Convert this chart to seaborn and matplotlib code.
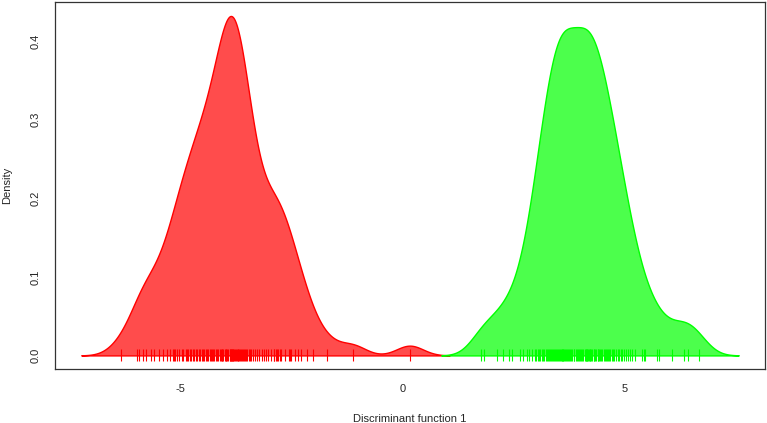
import numpy as np
import matplotlib
matplotlib.use("Agg")
import matplotlib.pyplot as plt
import seaborn as sns

# discriminant function 1 scores
red_scores = [
    -6.33,
    -5.97, -5.92, -5.85, -5.78,
    -5.65, -5.60,
    -5.48, -5.40, -5.31,
    -5.24, -5.17, -5.14, -5.11,
    -5.08, -5.03, -4.97, -4.93,
    -4.88, -4.85, -4.82, -4.78, -4.75, -4.72,
    -4.68, -4.65, -4.62, -4.58, -4.55, -4.52,
    -4.49, -4.46, -4.43, -4.40, -4.37, -4.34, -4.31,
    -4.29, -4.26, -4.23, -4.20, -4.17, -4.14, -4.11,
    -4.09, -4.07, -4.05, -4.03, -4.00, -3.98, -3.96, -3.94, -3.92,
    -3.89, -3.87, -3.86, -3.85, -3.84, -3.83, -3.82, -3.81, -3.79, -3.77,
    -3.75, -3.73, -3.71,
    -3.69, -3.67, -3.65, -3.63, -3.61, -3.58, -3.56, -3.54, -3.52,
    -3.49, -3.46, -3.43, -3.40, -3.36, -3.32,
    -3.28, -3.23, -3.17, -3.12,
    -3.08, -3.02, -2.95,
    -2.90, -2.88, -2.85, -2.82, -2.79, -2.76,
    -2.72, -2.65, -2.56, -2.52,
    -2.50, -2.42, -2.34,
    -2.27, -2.14,
    -2.02,
    -1.69, -1.12, 0.17,
]
green_scores = [
    1.78, 1.84, 2.13, 2.26, 2.41, 2.48, 2.65, 2.73,
    2.80, 2.86,
    2.93, 2.98, 3.02, 3.06, 3.09,
    3.11, 3.14, 3.17, 3.20, 3.23, 3.26, 3.29,
    3.31, 3.33, 3.35, 3.37, 3.40, 3.42, 3.44, 3.46, 3.48,
    3.51, 3.53, 3.55, 3.57, 3.59, 3.60, 3.62, 3.63, 3.64, 3.66, 3.68,
    3.71, 3.73, 3.76, 3.78, 3.81, 3.83, 3.86, 3.88,
    3.91, 3.93, 3.96, 3.98, 4.01, 4.03, 4.06, 4.08,
    4.11, 4.13, 4.15, 4.16, 4.17, 4.19, 4.20, 4.22, 4.24, 4.26, 4.28,
    4.31, 4.33, 4.35, 4.37, 4.40, 4.42, 4.44, 4.46, 4.48,
    4.51, 4.54, 4.56, 4.59, 4.61, 4.64, 4.66, 4.69,
    4.72, 4.75, 4.78, 4.82, 4.85, 4.88,
    4.92, 4.96, 5.00, 5.04, 5.08,
    5.12, 5.18, 5.25,
    5.40, 5.44, 5.48, 5.74, 5.79, 6.08, 6.35, 6.43, 6.68,
]
group_colors = ["#FF0000", "#00FF00"]
x_ticks = [-5, 0, 5]
y_ticks = [0.0, 0.1, 0.2, 0.3, 0.4]

BW = 0.3  # kernel bandwidth

sns.set_style("white")
plt.rcParams["font.family"] = ["Liberation Sans", "DejaVu Sans"]

fig = plt.figure(figsize=(7.67, 4.23), dpi=100)
ax = fig.add_axes([55 / 767, 54 / 423, 710 / 767, 367 / 423])

for scores, col in zip([red_scores, green_scores], group_colors):
    sd = np.std(scores, ddof=1)
    sns.kdeplot(x=scores, ax=ax, fill=True, color=col, alpha=0.7,
                bw_method=BW / sd, cut=3, gridsize=512, linewidth=1.0)

# rug of individual scores, centred on zero like R's points(pch="|")
for scores, col in zip([red_scores, green_scores], group_colors):
    ax.plot(scores, np.zeros(len(scores)), linestyle="none", marker="|",
            markersize=9, markeredgewidth=0.8, color=col)

lo = min(red_scores) - 3 * BW
hi = max(green_scores) + 3 * BW
span = hi - lo
ax.set_xlim(lo - 0.04 * span, hi + 0.04 * span)
ax.set_ylim(-0.0173, 0.4497)

ax.set_xticks(x_ticks)
ax.set_xticklabels([str(t) for t in x_ticks])
ax.set_yticks(y_ticks)
ax.set_yticklabels([f"{t:.1f}" for t in y_ticks])
plt.setp(ax.get_yticklabels(), rotation=90, va="center")
ax.tick_params(direction="out", length=5, width=0.8, labelsize=8,
               color="#333333", pad=6)
ax.tick_params(axis="y", pad=5)

for sp in ax.spines.values():
    sp.set_color("#333333")
    sp.set_linewidth(0.9)

ax.set_xlabel("Discriminant function 1", fontsize=8, labelpad=14)
ax.set_ylabel("Density", fontsize=8, labelpad=14)

fig.savefig("out.png", dpi=100)
